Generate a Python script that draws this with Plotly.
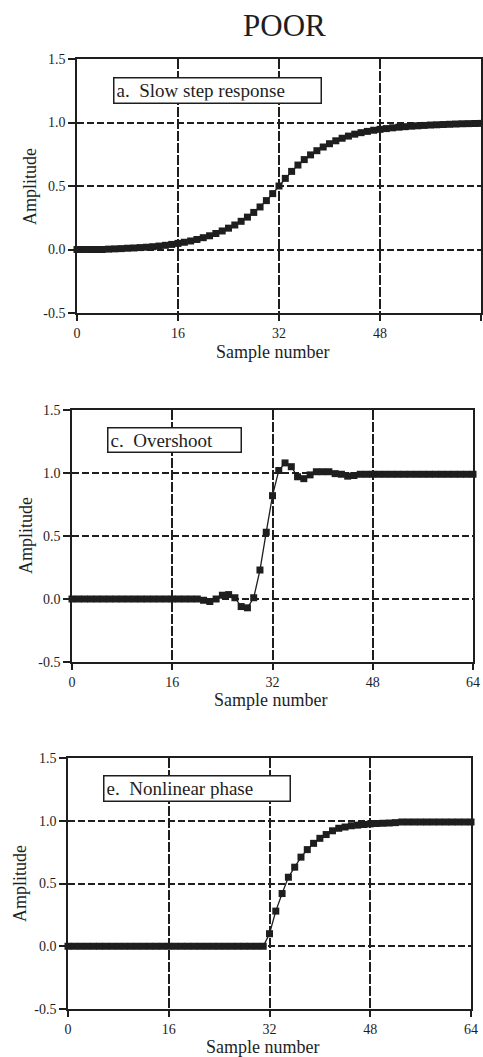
import plotly.graph_objects as go

W, H = 483, 1057

samples = list(range(65))

slow_step = [0.0, 0.0, 0.0, 0.0, 0.0, 0.003, 0.005, 0.007, 0.01, 0.012,
             0.015, 0.018, 0.022, 0.027, 0.033, 0.04, 0.048, 0.057, 0.067, 0.079,
             0.093, 0.108, 0.126, 0.146, 0.168, 0.193, 0.222, 0.255, 0.292, 0.335,
             0.385, 0.44, 0.5, 0.56, 0.615, 0.665, 0.708, 0.745, 0.778, 0.807,
             0.833, 0.856, 0.876, 0.893, 0.908, 0.92, 0.93, 0.939, 0.946, 0.952,
             0.958, 0.963, 0.967, 0.971, 0.974, 0.977, 0.98, 0.982, 0.984, 0.986,
             0.988, 0.99, 0.991, 0.992, 0.993]

overshoot = [0.0, 0.0, 0.0, 0.0, 0.0, 0.0, 0.0, 0.0, 0.0, 0.0,
             0.0, 0.0, 0.0, 0.0, 0.0, 0.0, 0.0, 0.0, 0.0, 0.0,
             0.0, -0.01, -0.02, 0.0, 0.03, 0.035, 0.01, -0.06, -0.07, 0.01,
             0.23, 0.53, 0.82, 1.02, 1.08, 1.05, 0.97, 0.955, 0.985, 1.01,
             1.01, 1.01, 0.995, 0.99, 0.975, 0.98, 0.99, 0.99, 0.99, 0.99,
             0.99, 0.99, 0.99, 0.99, 0.99, 0.99, 0.99, 0.99, 0.99, 0.99,
             0.99, 0.99, 0.99, 0.99, 0.99]

nonlinear = [0.0, 0.0, 0.0, 0.0, 0.0, 0.0, 0.0, 0.0, 0.0, 0.0,
             0.0, 0.0, 0.0, 0.0, 0.0, 0.0, 0.0, 0.0, 0.0, 0.0,
             0.0, 0.0, 0.0, 0.0, 0.0, 0.0, 0.0, 0.0, 0.0, 0.0,
             0.0, 0.0, 0.1, 0.28, 0.42, 0.55, 0.63, 0.71, 0.77, 0.82,
             0.86, 0.89, 0.92, 0.94, 0.95, 0.96, 0.965, 0.97, 0.975, 0.978,
             0.98, 0.982, 0.985, 0.99, 0.99, 0.99, 0.99, 0.99, 0.99, 0.99,
             0.99, 0.99, 0.99, 0.99, 0.99]

x_ticks = [0, 16, 32, 48, 64]
x_labels = ["0", "16", "32", "48", "64"]
y_ticks = [-0.5, 0.0, 0.5, 1.0, 1.5]
y_labels = ["-0.5", "0.0", "0.5", "1.0", "1.5"]

titles = ["a.\u00a0\u00a0Slow step response", "c.\u00a0\u00a0Overshoot", "e.\u00a0\u00a0Nonlinear phase"]
series = [slow_step, overshoot, nonlinear]

# pixel boxes of the plot areas: (left, right, top, bottom)
boxes = [(77, 481, 59, 313), (72, 473, 410, 662), (68, 471, 758, 1009)]
label_boxes = [(113, 323, 78, 103), (107, 243, 428, 452), (103, 292, 776, 801)]
amp_pos = [(30, 187), (26, 536), (20, 884)]
samp_pos = [(272, 352), (270, 700), (262, 1047)]

SERIF = "Liberation Serif, Times New Roman, serif"
INK = "#1e1e1e"

fig = go.Figure()
annotations = []
for i, (ys, box) in enumerate(zip(series, boxes)):
    l, r, t, b = box
    n = "" if i == 0 else str(i + 1)
    fig.add_trace(go.Scatter(
        x=samples, y=ys, mode="lines+markers",
        line=dict(color=INK, width=1.3),
        marker=dict(symbol="square", size=7, color=INK),
        xaxis="x" + n, yaxis="y" + n, cliponaxis=False, showlegend=False))
    fig.update_layout(**{
        "xaxis" + n: dict(
            domain=[l / W, r / W], range=[0, 64], anchor="y" + n,
            tickmode="array", tickvals=x_ticks, ticktext=x_labels,
            ticks="outside", ticklen=6, tickwidth=2, tickcolor=INK,
            showline=True, linecolor=INK, linewidth=1.5, mirror=True,
            showgrid=True, gridcolor=INK, gridwidth=2.2, griddash="10px,2px",
            zeroline=False, automargin=False,
            tickfont=dict(family=SERIF, size=14, color=INK)),
        "yaxis" + n: dict(
            domain=[1 - b / H, 1 - t / H], range=[-0.5, 1.5], anchor="x" + n,
            tickmode="array", tickvals=y_ticks, ticktext=y_labels,
            ticks="outside", ticklen=7, tickwidth=1.5, tickcolor=INK,
            showline=True, linecolor=INK, linewidth=1.5, mirror=True,
            showgrid=True, gridcolor=INK, gridwidth=1.6, griddash="7px,3px",
            zeroline=False, automargin=False,
            tickfont=dict(family=SERIF, size=14, color=INK)),
    })
    bl, br, bt, bb = label_boxes[i]
    annotations.append(dict(
        x=bl / W, y=1 - (bt + bb) / 2 / H, xref="paper", yref="paper",
        xanchor="left", yanchor="middle", showarrow=False,
        text=titles[i], align="left",
        width=br - bl - 8, height=bb - bt - 5,
        font=dict(family=SERIF, size=19, color=INK),
        bgcolor="white", bordercolor=INK, borderwidth=1.5, borderpad=2))
    ax, ay = amp_pos[i]
    annotations.append(dict(
        x=ax / W, y=1 - ay / H, xref="paper", yref="paper",
        xanchor="center", yanchor="middle", showarrow=False, textangle=-90,
        text="Amplitude", font=dict(family=SERIF, size=18, color=INK)))
    sx, sy = samp_pos[i]
    annotations.append(dict(
        x=sx / W, y=1 - sy / H, xref="paper", yref="paper",
        xanchor="center", yanchor="middle", showarrow=False,
        text="Sample number", font=dict(family=SERIF, size=18, color=INK)))

annotations.append(dict(
    x=284 / W, y=1 - 26 / H, xref="paper", yref="paper",
    xanchor="center", yanchor="middle", showarrow=False,
    text="POOR", font=dict(family=SERIF, size=31, color=INK)))

fig.update_layout(
    width=W, height=H, margin=dict(l=0, r=0, t=0, b=0),
    paper_bgcolor="white", plot_bgcolor="white",
    annotations=annotations)

fig.write_html(
    "out.html",
    config={"displayModeBar": False},
    post_script="document.body.style.margin='0';document.body.style.overflow='hidden';")
